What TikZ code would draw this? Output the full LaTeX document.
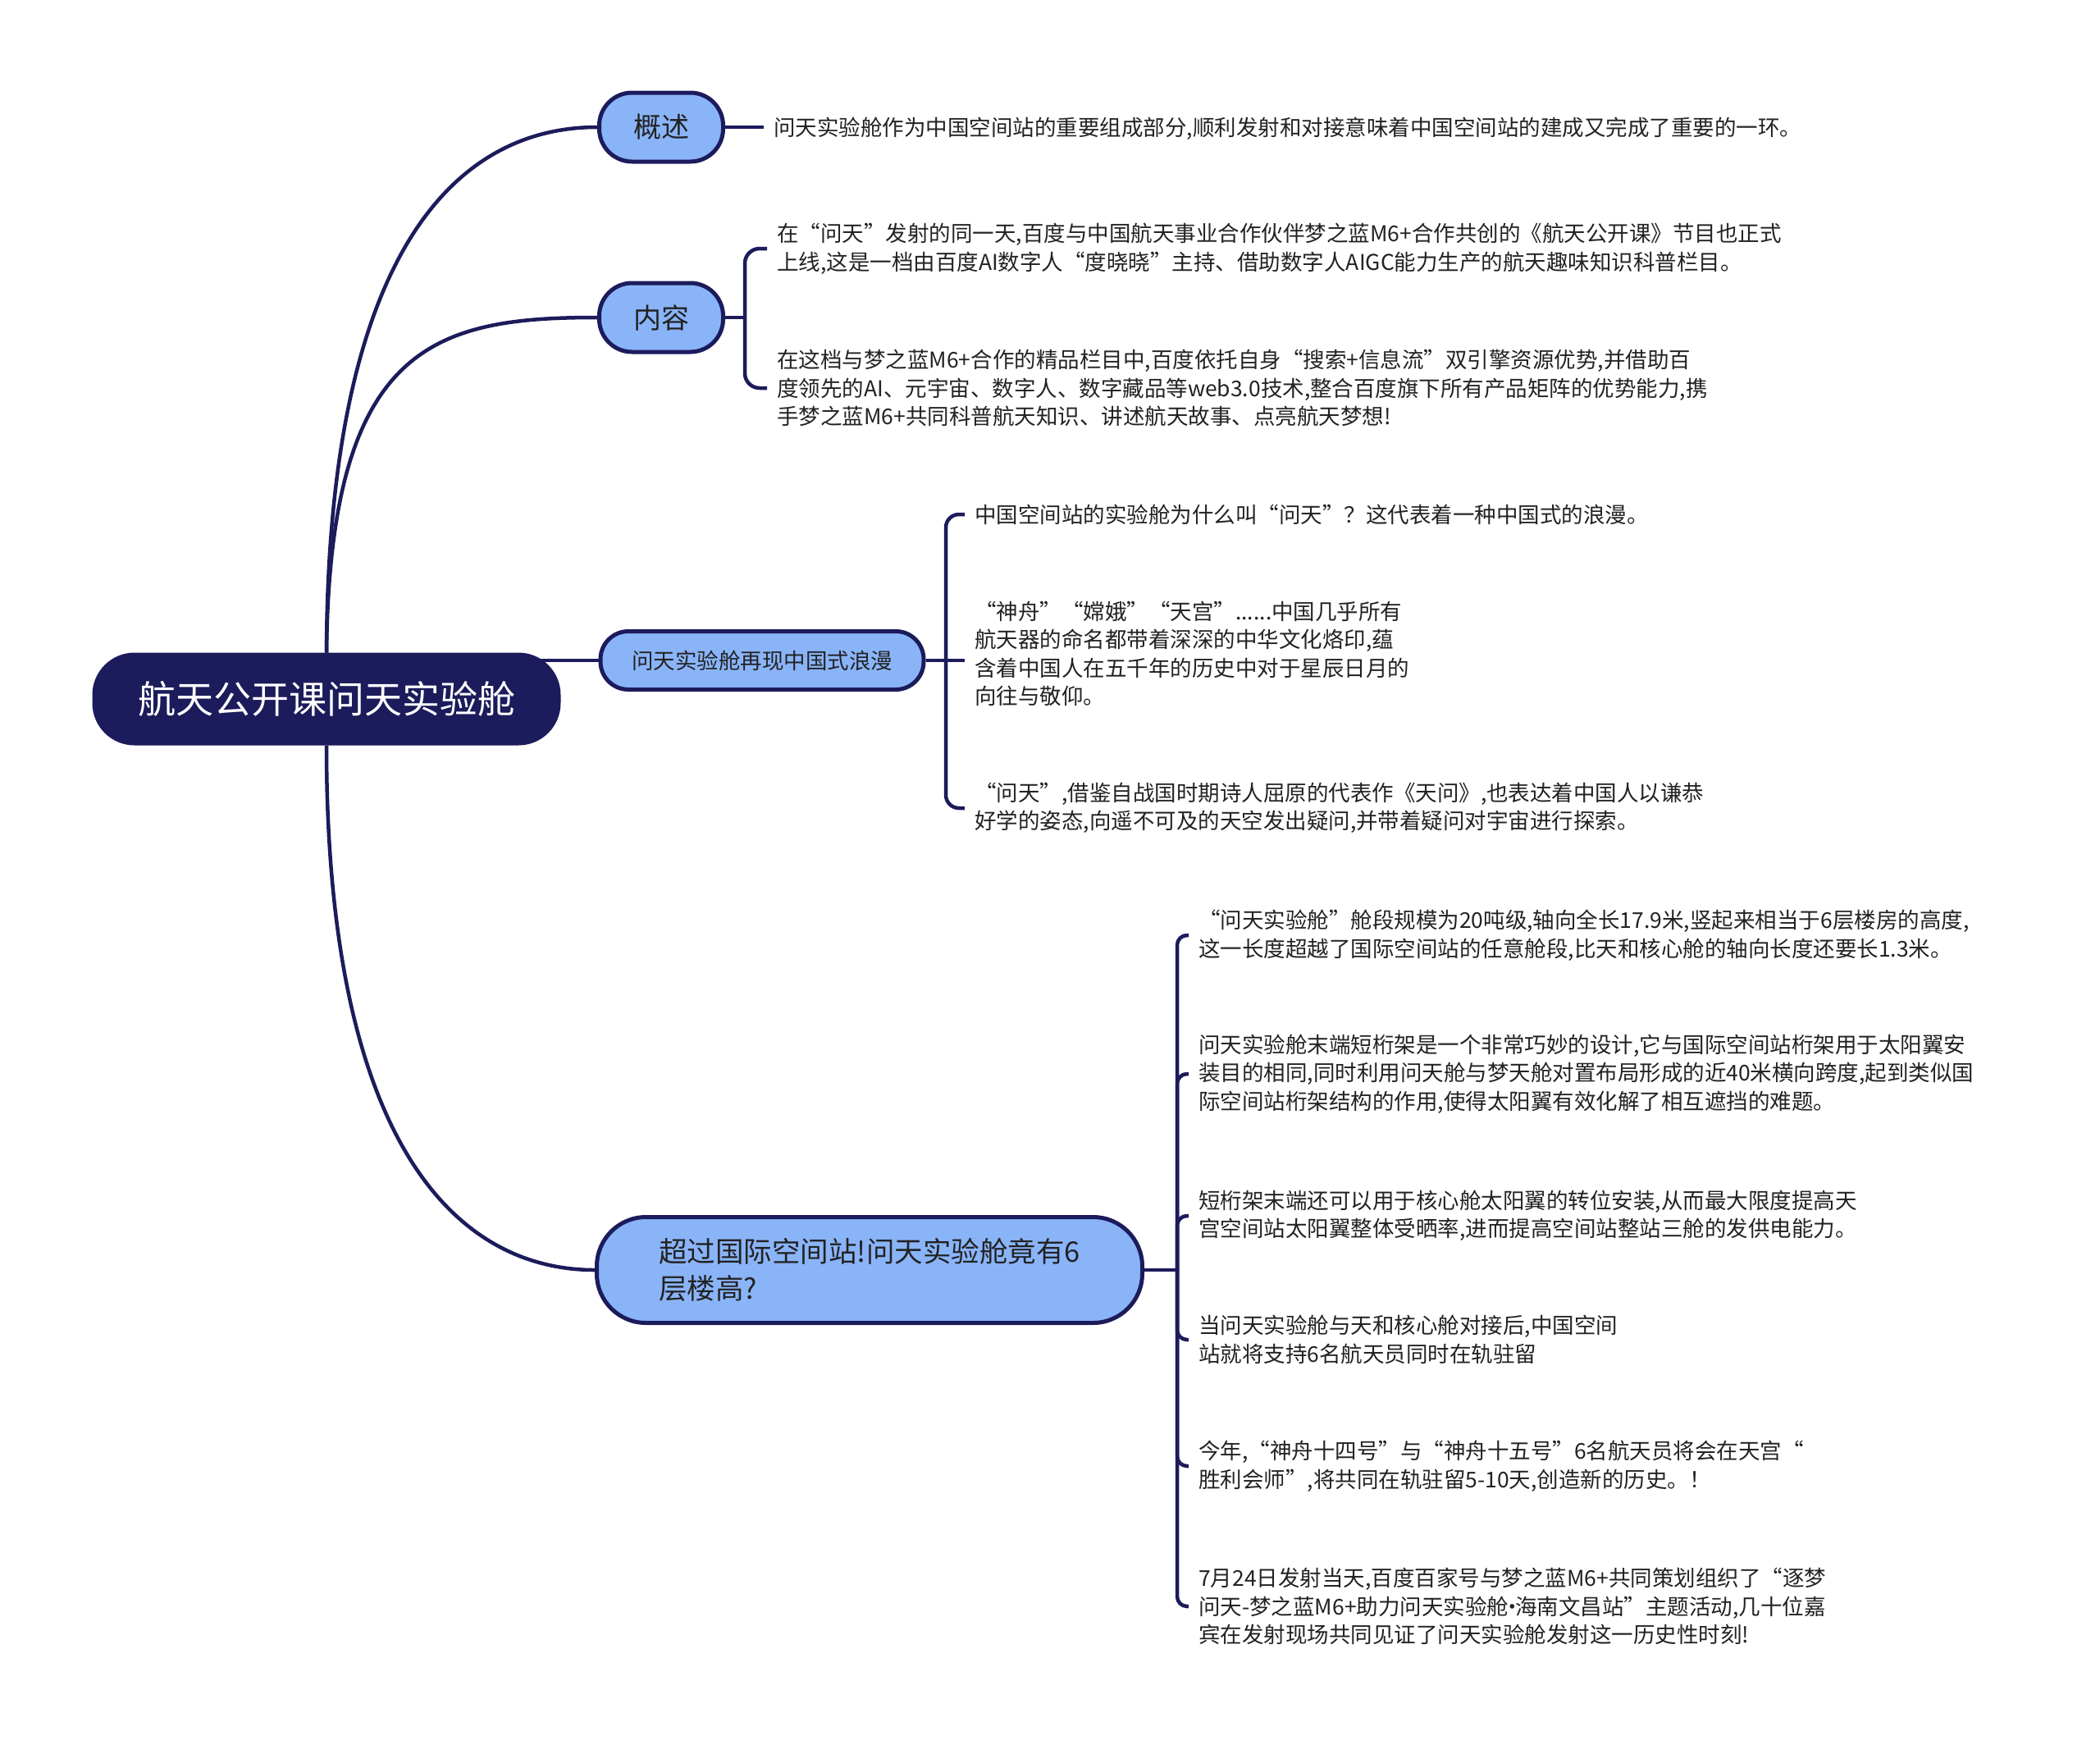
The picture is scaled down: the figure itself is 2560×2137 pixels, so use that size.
\documentclass[tikz,border=0pt]{standalone}
\usepackage{fontspec}
\setmainfont{Noto Sans CJK SC}
\usetikzlibrary{backgrounds}
\definecolor{navy}{HTML}{1C1B5B}
\definecolor{sky}{HTML}{8AB4F8}
\definecolor{ink}{HTML}{222222}
\tikzset{
  rootbox/.style={rectangle, rounded corners=50pt, fill=navy, draw=navy,
    line width=3pt, text=white, minimum width=568pt, minimum height=110pt,
    font=\fontsize{46}{52}\selectfont},
  topic/.style={rectangle, rounded corners=#1, fill=sky, draw=navy,
    line width=5pt, text=ink, align=left},
  leaf/.style={anchor=west, inner xsep=12pt, inner ysep=0pt, text=ink,
    align=left, font=\fontsize{26.5}{34.5}\selectfont},
  link/.style={navy, line width=4.5pt},
  fork/.style={link, rounded corners=#1}
}

\begin{document}
\begin{tikzpicture}[x=1pt, y=-1pt]

\def\spineB{908}   % fork of 内容
\def\spineC{1153}  % fork of 再现中国式浪漫
\def\spineD{1435}  % fork of 6层楼高

\useasboundingbox (0,0) rectangle (2560,2137);

%--- Central topic ---
\node[rootbox] (root) at (398,852) {航天公开课问天实验舱};

%--- Main branches ---
\node[topic=40pt, minimum width=151pt, minimum height=84pt,
  font=\fontsize{34}{40}\selectfont] (gaishu) at (806,155) {概述};
\node[topic=40pt, minimum width=151pt, minimum height=84pt,
  font=\fontsize{34}{40}\selectfont] (neirong) at (806,387) {内容};
\node[topic=34pt, minimum width=394pt, minimum height=71pt,
  font=\fontsize{26.5}{32}\selectfont] (langman) at (929,805) {问天实验舱再现中国式浪漫};
\node[topic=60pt, minimum width=665pt, minimum height=129pt,
  font=\fontsize{34.5}{45}\selectfont] (chaoguo) at (1060,1548)
  {超过国际空间站!问天实验舱竟有6\\层楼高?};

%--- Leaves ---
\node[leaf] (gsText) at (931,157) {问天实验舱作为中国空间站的重要组成部分,顺利发射和对接意味着中国空间站的建成又完成了重要的一环。};

\node[leaf] (nr1) at (935,303) {在“问天”发射的同一天,百度与中国航天事业合作伙伴梦之蓝M6+合作共创的《航天公开课》节目也正式\\上线,这是一档由百度AI数字人“度晓晓”主持、借助数字人AIGC能力生产的航天趣味知识科普栏目。};
\node[leaf] (nr2) at (935,473) {在这档与梦之蓝M6+合作的精品栏目中,百度依托自身“搜索+信息流”双引擎资源优势,并借助百\\度领先的AI、元宇宙、数字人、数字藏品等web3.0技术,整合百度旗下所有产品矩阵的优势能力,携\\手梦之蓝M6+共同科普航天知识、讲述航天故事、点亮航天梦想!};

\node[leaf] (lm1) at (1176,627) {中国空间站的实验舱为什么叫“问天”？这代表着一种中国式的浪漫。};
\node[leaf] (lm2) at (1176,797) {“神舟”“嫦娥”“天宫”......中国几乎所有\\航天器的命名都带着深深的中华文化烙印,蕴\\含着中国人在五千年的历史中对于星辰日月的\\向往与敬仰。};
\node[leaf] (lm3) at (1176,985) {“问天”,借鉴自战国时期诗人屈原的代表作《天问》,也表达着中国人以谦恭\\好学的姿态,向遥不可及的天空发出疑问,并带着疑问对宇宙进行探索。};

\node[leaf] (cg1) at (1449,1140) {“问天实验舱”舱段规模为20吨级,轴向全长17.9米,竖起来相当于6层楼房的高度,\\这一长度超越了国际空间站的任意舱段,比天和核心舱的轴向长度还要长1.3米。};
\node[leaf] (cg2) at (1449,1309) {问天实验舱末端短桁架是一个非常巧妙的设计,它与国际空间站桁架用于太阳翼安\\装目的相同,同时利用问天舱与梦天舱对置布局形成的近40米横向跨度,起到类似国\\际空间站桁架结构的作用,使得太阳翼有效化解了相互遮挡的难题。};
\node[leaf] (cg3) at (1449,1482) {短桁架末端还可以用于核心舱太阳翼的转位安装,从而最大限度提高天\\宫空间站太阳翼整体受晒率,进而提高空间站整站三舱的发供电能力。};
\node[leaf] (cg4) at (1449,1633) {当问天实验舱与天和核心舱对接后,中国空间\\站就将支持6名航天员同时在轨驻留};
\node[leaf] (cg5) at (1449,1787) {今年,“神舟十四号”与“神舟十五号”6名航天员将会在天宫“\\胜利会师”,将共同在轨驻留5-10天,创造新的历史。！};
\node[leaf] (cg6) at (1449,1958) {7月24日发射当天,百度百家号与梦之蓝M6+共同策划组织了“逐梦\\问天-梦之蓝M6+助力问天实验舱\kern-0.35em·\kern-0.35em海南文昌站”主题活动,几十位嘉\\宾在发射现场共同见证了问天实验舱发射这一历史性时刻!};

\coordinate (s2) at (\spineB,0);
\coordinate (s3) at (\spineC,0);
\coordinate (s4) at (\spineD,0);

%--- Connectors (under the boxes) ---
\begin{scope}[on background layer]
\fill[white] (0,0) rectangle (2560,2137);

\draw[link] (root.north) .. controls (400,300) and (560,155) .. (gaishu.west);
\draw[link] (root.north) .. controls (402,420) and (530,387) .. (neirong.west);
\draw[link] (root.center |- langman.west) -- (langman.west);
\draw[link] (root.south) .. controls (398,1400) and (560,1548) .. (chaoguo.west);

\draw[link] (gaishu.east) -- (gaishu.east -| gsText.west);

\draw[link] (neirong.east) -- (neirong.east -| s2);
\foreach \c in {nr1,nr2}
  \draw[fork=18pt] (neirong.east -| s2) |- (\c.west);

\draw[link] (langman.east) -- (langman.east -| lm2.west);
\foreach \c in {lm1,lm3}
  \draw[fork=16pt] (langman.east -| s3) |- (\c.west);

\draw[link] (chaoguo.east) -- (chaoguo.east -| s4);
\foreach \c in {cg1,cg2,cg3,cg4,cg5,cg6}
  \draw[fork=12pt] (chaoguo.east -| s4) |- (\c.west);
\end{scope}

\end{tikzpicture}
\end{document}
